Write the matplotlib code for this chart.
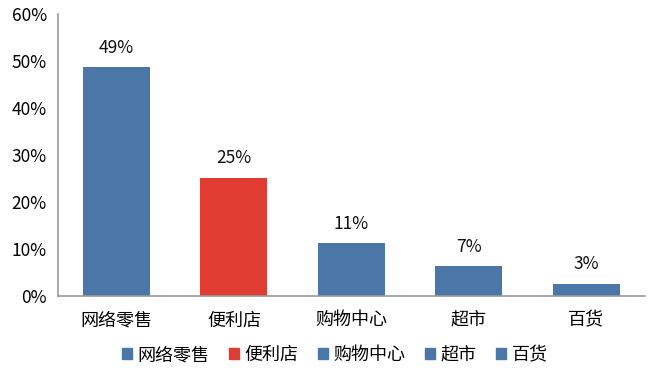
import matplotlib.pyplot as plt
from matplotlib.patches import Patch

plt.rcParams['font.family'] = ['Noto Sans CJK SC', 'DejaVu Sans']

categories = ['网络零售', '便利店', '购物中心', '超市', '百货']
values = [48.7, 25.2, 11.3, 6.4, 2.6]
labels = ['49%', '25%', '11%', '7%', '3%']
colors = ['#4A76A8', '#E03C31', '#4A76A8', '#4A76A8', '#4A76A8']
yticks = [0, 10, 20, 30, 40, 50, 60]

fig = plt.figure(figsize=(6.5, 3.79), dpi=100)
ax = fig.add_axes([0.089, 0.219, 0.903, 0.744])

x = range(len(categories))
bars = ax.bar(x, values, width=0.57, color=colors)
for b, lab in zip(bars, labels):
    ax.text(b.get_x() + b.get_width() / 2, b.get_height() + 2.2, lab,
            ha='center', va='bottom', fontsize=12.5, color='#111111')

ax.set_xlim(-0.5, len(categories) - 0.5)
ax.set_ylim(0, 60)
ax.set_yticks(yticks)
ax.set_yticklabels([f'{v}%' for v in yticks], fontsize=12.5)
ax.set_xticks(list(x))
ax.set_xticklabels(categories, fontsize=13)
ax.tick_params(length=0, pad=8)
ax.tick_params(axis='x', pad=11)
for s in ['top', 'right']:
    ax.spines[s].set_visible(False)
for s in ['left', 'bottom']:
    ax.spines[s].set_color('#999999')
    ax.spines[s].set_linewidth(1.2)

handles = [Patch(color=c) for c in colors]
fig.legend(handles, categories, loc='center', bbox_to_anchor=(0.515, 0.063),
           ncol=5, frameon=False, fontsize=13, handlelength=0.55,
           handleheight=0.55, handletextpad=0.3, columnspacing=1.1)

fig.savefig('out.png', dpi=100)
